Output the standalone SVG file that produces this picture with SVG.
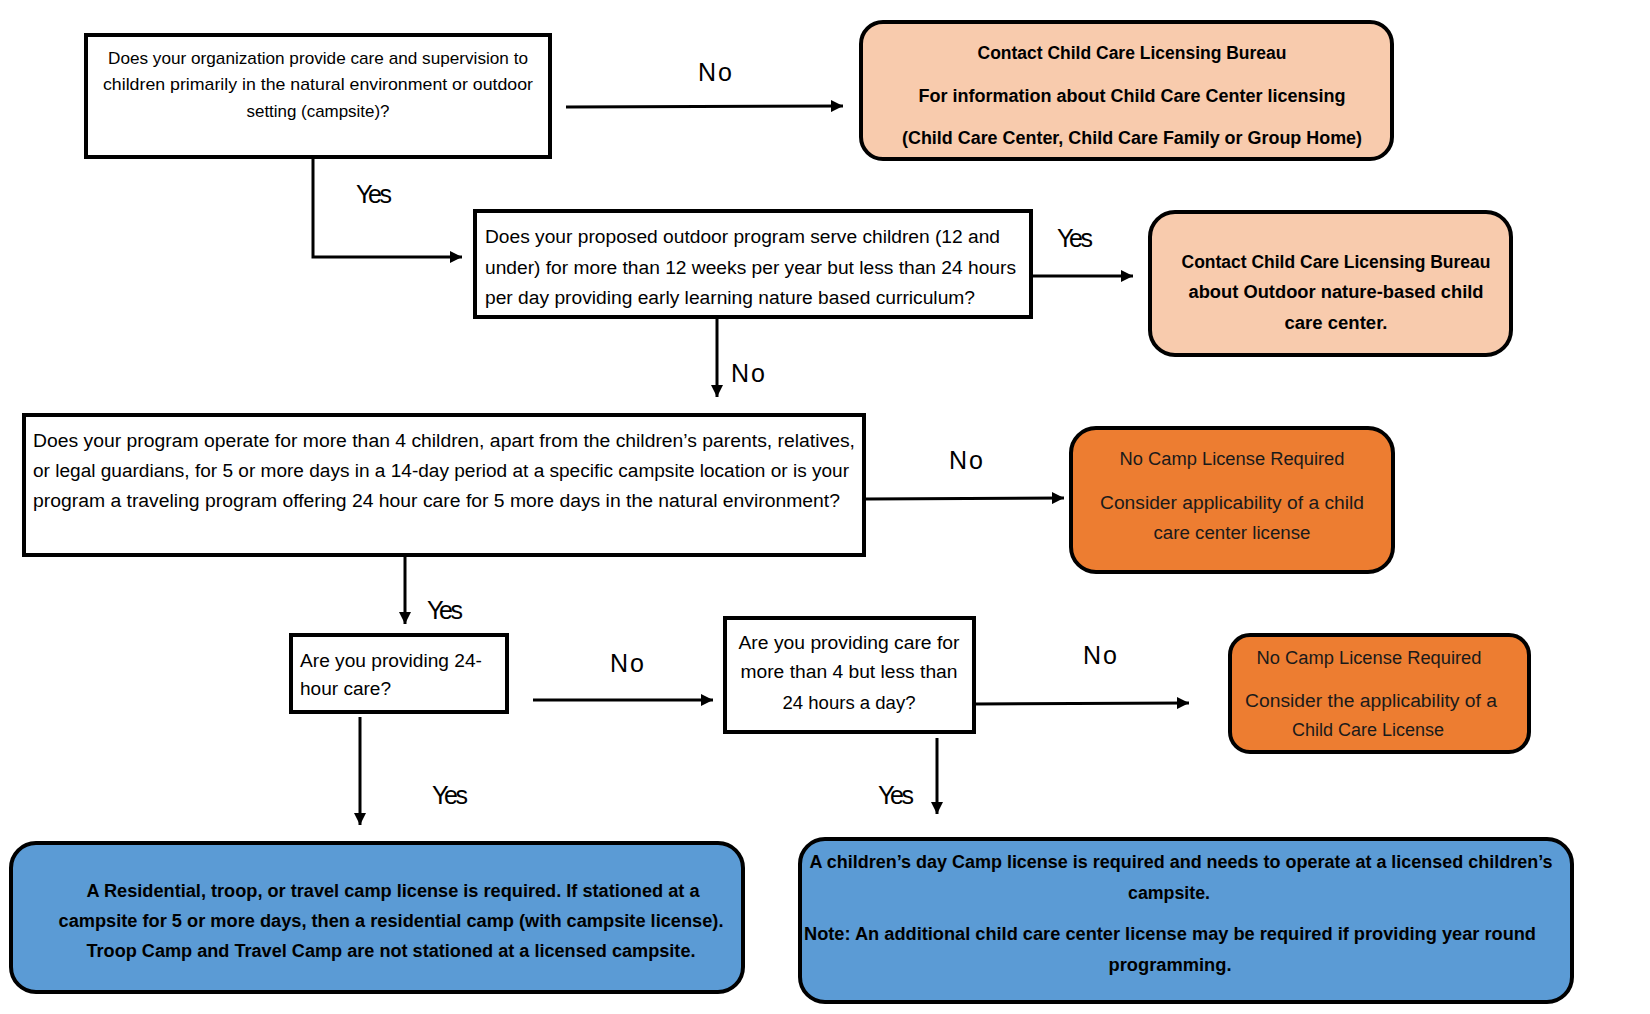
<svg xmlns="http://www.w3.org/2000/svg" width="1650" height="1014" viewBox="0 0 1650 1014">
<style>
  .q { fill: #ffffff; stroke: #000000; stroke-width: 4; }
  .peach { fill: #F8CBAD; stroke: #000000; stroke-width: 4; }
  .orange { fill: #ED7D31; stroke: #000000; stroke-width: 4; }
  .blue { fill: #5B9BD5; stroke: #000000; stroke-width: 4; }
  text { font-family: "Liberation Sans", Arial, sans-serif; fill: #000000; }
  .t { font-size: 18px; }
  .ts { font-size: 17px; }
  .b { font-size: 18px; font-weight: bold; }
  .o { font-size: 18px; fill: #1a1a1a; }
  .lbl { font-size: 25px; text-anchor: middle; }
  .c { text-anchor: middle; }
  .conn { fill: none; stroke: #000000; stroke-width: 3; marker-end: url(#arr); }
</style>
<defs>
  <marker id="arr" markerUnits="userSpaceOnUse" markerWidth="13" markerHeight="12" refX="12" refY="6" orient="auto">
    <path d="M0,0 L12,6 L0,12 z" fill="#000000"/>
  </marker>
</defs>
<rect width="1650" height="1014" fill="#ffffff"/>

<g id="connectors">
  <path class="conn" d="M566,107 L843,106"/>
  <path class="conn" d="M313,155 V257 H462"/>
  <path class="conn" d="M1033,276 H1133"/>
  <path class="conn" d="M717,317 V397"/>
  <path class="conn" d="M866,499 L1064,498"/>
  <path class="conn" d="M405,555 V624"/>
  <path class="conn" d="M533,700 H713"/>
  <path class="conn" d="M975,704 L1189,703"/>
  <path class="conn" d="M360,717 V825"/>
  <path class="conn" d="M937,738 V814"/>
</g>

<g id="labels">
  <text class="lbl" x="715" y="81" textLength="34">No</text>
  <text class="lbl" x="374" y="203" textLength="36">Yes</text>
  <text class="lbl" x="1075" y="247" textLength="36">Yes</text>
  <text class="lbl" x="748" y="382" textLength="34">No</text>
  <text class="lbl" x="966" y="469" textLength="34">No</text>
  <text class="lbl" x="445" y="619" textLength="36">Yes</text>
  <text class="lbl" x="627" y="672" textLength="34">No</text>
  <text class="lbl" x="1100" y="664" textLength="34">No</text>
  <text class="lbl" x="450" y="804" textLength="36">Yes</text>
  <text class="lbl" x="896" y="804" textLength="36">Yes</text>
</g>

<g id="q1">
  <rect class="q" x="86" y="35" width="464" height="122"/>
  <text class="ts c" x="318" y="63.5" textLength="420" lengthAdjust="spacingAndGlyphs">Does your organization provide care and supervision to</text>
  <text class="ts c" x="318" y="89.5" textLength="430" lengthAdjust="spacingAndGlyphs">children primarily in the natural environment or outdoor</text>
  <text class="ts c" x="318" y="116.5" textLength="143" lengthAdjust="spacingAndGlyphs">setting (campsite)?</text>
</g>

<g id="resultA">
  <rect class="peach" x="861" y="22" width="531" height="137" rx="22"/>
  <text class="b c" x="1132" y="58.5" textLength="309" lengthAdjust="spacingAndGlyphs">Contact Child Care Licensing Bureau</text>
  <text class="b c" x="1132" y="101.5" textLength="427" lengthAdjust="spacingAndGlyphs">For information about Child Care Center licensing</text>
  <text class="b c" x="1132" y="143.5" textLength="460" lengthAdjust="spacingAndGlyphs">(Child Care Center, Child Care Family or Group Home)</text>
</g>

<g id="q2">
  <rect class="q" x="475" y="211" width="556" height="106"/>
  <text class="t" x="485" y="242.5" textLength="515" lengthAdjust="spacingAndGlyphs">Does your proposed outdoor program serve children (12 and</text>
  <text class="t" x="485" y="273.5" textLength="531" lengthAdjust="spacingAndGlyphs">under) for more than 12 weeks per year but less than 24 hours</text>
  <text class="t" x="485" y="303.5" textLength="490" lengthAdjust="spacingAndGlyphs">per day providing early learning nature based curriculum?</text>
</g>

<g id="resultB">
  <rect class="peach" x="1150" y="212" width="361" height="143" rx="25"/>
  <text class="b c" x="1336" y="267.5" textLength="309" lengthAdjust="spacingAndGlyphs">Contact Child Care Licensing Bureau</text>
  <text class="b c" x="1336" y="297.5" textLength="295" lengthAdjust="spacingAndGlyphs">about Outdoor nature-based child</text>
  <text class="b c" x="1336" y="328.5" textLength="103" lengthAdjust="spacingAndGlyphs">care center.</text>
</g>

<g id="q3">
  <rect class="q" x="24" y="415" width="840" height="140"/>
  <text class="t" x="33" y="446.5" textLength="822" lengthAdjust="spacingAndGlyphs">Does your program operate for more than 4 children, apart from the children’s parents, relatives,</text>
  <text class="t" x="33" y="476.5" textLength="816" lengthAdjust="spacingAndGlyphs">or legal guardians, for 5 or more days in a 14-day period at a specific campsite location or is your</text>
  <text class="t" x="33" y="506.5" textLength="807" lengthAdjust="spacingAndGlyphs">program a traveling program offering 24 hour care for 5 more days in the natural environment?</text>
</g>

<g id="resultC">
  <rect class="orange" x="1071" y="428" width="322" height="144" rx="25"/>
  <text class="o c" x="1232" y="464.5" textLength="225" lengthAdjust="spacingAndGlyphs">No Camp License Required</text>
  <text class="o c" x="1232" y="508.5" textLength="264" lengthAdjust="spacingAndGlyphs">Consider applicability of a child</text>
  <text class="o c" x="1232" y="538.5" textLength="157" lengthAdjust="spacingAndGlyphs">care center license</text>
</g>

<g id="q4">
  <rect class="q" x="291" y="635" width="216" height="77"/>
  <text class="t" x="300" y="666.5" textLength="182" lengthAdjust="spacingAndGlyphs">Are you providing 24-</text>
  <text class="t" x="300" y="694.5" textLength="91" lengthAdjust="spacingAndGlyphs">hour care?</text>
</g>

<g id="q5">
  <rect class="q" x="725" y="618" width="249" height="114"/>
  <text class="t c" x="849" y="648.5" textLength="221" lengthAdjust="spacingAndGlyphs">Are you providing care for</text>
  <text class="t c" x="849" y="678" textLength="217" lengthAdjust="spacingAndGlyphs">more than 4 but less than</text>
  <text class="t c" x="849" y="709" textLength="133" lengthAdjust="spacingAndGlyphs">24 hours a day?</text>
</g>

<g id="resultD">
  <rect class="orange" x="1230" y="635" width="299" height="117" rx="20"/>
  <text class="o c" x="1369" y="663.5" textLength="225" lengthAdjust="spacingAndGlyphs">No Camp License Required</text>
  <text class="o c" x="1371" y="706.5" textLength="252" lengthAdjust="spacingAndGlyphs">Consider the applicability of a</text>
  <text class="o c" x="1368" y="735.5" textLength="152" lengthAdjust="spacingAndGlyphs">Child Care License</text>
</g>

<g id="resultE">
  <rect class="blue" x="11" y="843" width="732" height="149" rx="25"/>
  <text class="b c" x="393" y="896.5" textLength="613" lengthAdjust="spacingAndGlyphs">A Residential, troop, or travel camp license is required. If stationed at a</text>
  <text class="b c" x="391" y="926.5" textLength="665" lengthAdjust="spacingAndGlyphs">campsite for 5 or more days, then a residential camp (with campsite license).</text>
  <text class="b c" x="391" y="956.5" textLength="609" lengthAdjust="spacingAndGlyphs">Troop Camp and Travel Camp are not stationed at a licensed campsite.</text>
</g>

<g id="resultF">
  <rect class="blue" x="800" y="839" width="772" height="163" rx="25"/>
  <text class="b c" x="1181" y="867.5" textLength="743" lengthAdjust="spacingAndGlyphs">A children’s day Camp license is required and needs to operate at a licensed children’s</text>
  <text class="b c" x="1169" y="898.5" textLength="82" lengthAdjust="spacingAndGlyphs">campsite.</text>
  <text class="b c" x="1170" y="939.5" textLength="732" lengthAdjust="spacingAndGlyphs">Note: An additional child care center license may be required if providing year round</text>
  <text class="b c" x="1170" y="970.5" textLength="123" lengthAdjust="spacingAndGlyphs">programming.</text>
</g>
</svg>
